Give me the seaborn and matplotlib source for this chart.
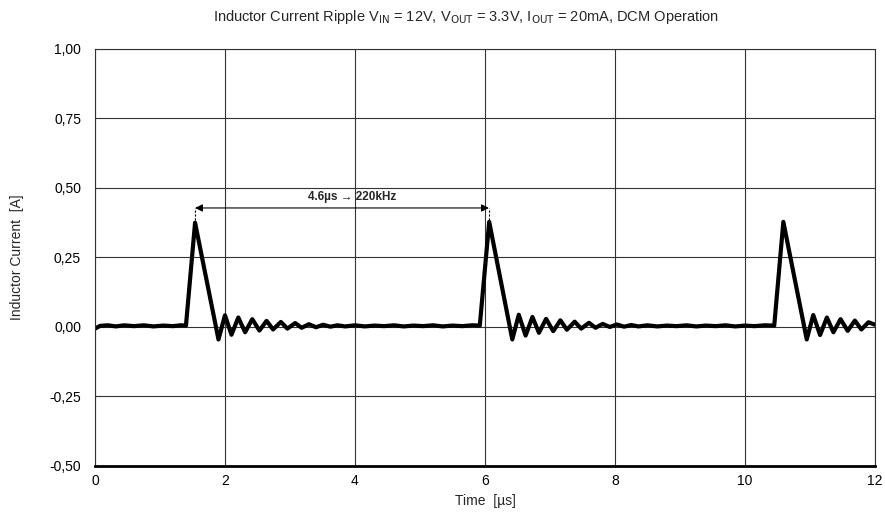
import pandas as pd
import matplotlib
matplotlib.use('Agg')
import matplotlib.pyplot as plt
import seaborn as sns

zeit = [0.00, 0.08, 0.20, 0.32, 0.45, 0.60, 0.75, 0.90, 1.05, 1.20, 1.32, 1.40,
        1.54, 1.90, 2.00, 2.10, 2.205, 2.31, 2.42, 2.53, 2.64, 2.74, 2.86, 2.96,
        3.08, 3.18, 3.29, 3.40, 3.51, 3.62, 3.73, 3.85, 4.00, 4.15, 4.30, 4.45,
        4.60, 4.75, 4.90, 5.05, 5.20, 5.35, 5.50, 5.65, 5.80, 5.92,
        6.065, 6.42, 6.52, 6.625, 6.73, 6.83, 6.94, 7.05, 7.16, 7.26, 7.38, 7.48,
        7.60, 7.70, 7.81, 7.92, 8.03, 8.14, 8.25, 8.36, 8.50, 8.65, 8.80, 8.95,
        9.10, 9.25, 9.40, 9.55, 9.70, 9.85, 10.00, 10.15, 10.30, 10.45,
        10.59, 10.95, 11.05, 11.155, 11.26, 11.36, 11.47, 11.58, 11.69, 11.79,
        11.90, 12.00]
strom = [-0.006, 0.004, 0.006, 0.002, 0.006, 0.003, 0.006, 0.002, 0.005, 0.003, 0.006, 0.005,
         0.375, -0.045, 0.042, -0.028, 0.034, -0.019, 0.028, -0.013, 0.022, -0.009, 0.018, -0.006,
         0.014, -0.003, 0.010, -0.001, 0.008, 0.001, 0.006, 0.002, 0.006, 0.002, 0.005, 0.003,
         0.006, 0.002, 0.005, 0.003, 0.006, 0.002, 0.005, 0.003, 0.006, 0.005,
         0.378, -0.045, 0.044, -0.031, 0.036, -0.021, 0.029, -0.015, 0.024, -0.010, 0.019, -0.006,
         0.015, -0.003, 0.011, 0.000, 0.009, 0.001, 0.007, 0.002, 0.006, 0.002, 0.005, 0.003,
         0.006, 0.002, 0.005, 0.003, 0.006, 0.002, 0.005, 0.003, 0.006, 0.005,
         0.378, -0.045, 0.043, -0.029, 0.034, -0.019, 0.028, -0.014, 0.023, -0.009,
         0.017, 0.008]

x_ticks = [0, 2, 4, 6, 8, 10, 12]
y_ticks = [-0.50, -0.25, 0.00, 0.25, 0.50, 0.75, 1.00]
y_labels = ['-0,50', '-0,25', '0,00', '0,25', '0,50', '0,75', '1,00']

# Periodenmarkierung zwischen den ersten zwei Spitzen
spitze_1 = 1.54
spitze_2 = 6.06
pfeil_y = 0.428
spitze_y = 0.385

df = pd.DataFrame({'t': zeit, 'i': strom})

sns.set_style('white')
schrift = ['Liberation Sans Narrow', 'Liberation Sans', 'DejaVu Sans']
plt.rcParams['font.family'] = schrift
plt.rcParams['mathtext.fontset'] = 'custom'
plt.rcParams['mathtext.rm'] = schrift[0]

fig = plt.figure(figsize=(8.85, 5.21), dpi=100)
ax = fig.add_axes([0.1073, 0.1056, 0.8814, 0.8005])

ax.grid(True, color='#333333', linewidth=0.8)
ax.set_axisbelow(True)

sns.lineplot(data=df, x='t', y='i', sort=False, estimator=None,
             color='black', linewidth=3.0, ax=ax)
ax.lines[-1].set_solid_joinstyle('round')

ax.set_xlim(0, 12)
ax.set_ylim(-0.5, 1.0)
ax.set_xticks(x_ticks)
ax.set_yticks(y_ticks)
ax.set_yticklabels(y_labels)
ax.tick_params(axis='y', length=0, labelsize=10, pad=10, colors='black')
ax.tick_params(axis='x', length=0, labelsize=10, pad=6, colors='black')

for s in ['top', 'right', 'left']:
    ax.spines[s].set_color('#333333')
    ax.spines[s].set_linewidth(0.8)
ax.spines['bottom'].set_color('black')
ax.spines['bottom'].set_linewidth(2.0)

ax.set_xlabel('Time  [µs]', fontsize=10, labelpad=4)
ax.set_ylabel('Inductor Current  [A]', fontsize=10, labelpad=18)
fig.text(0.527, 0.967, r'Inductor Current Ripple V$_{\mathrm{IN}}$ = 12V, V$_{\mathrm{OUT}}$ = 3.3V, '
         r'I$_{\mathrm{OUT}}$ = 20mA, DCM Operation', fontsize=10.5, ha='center', va='center')

# Doppelpfeil mit Frequenzangabe
ax.annotate('', xy=(spitze_1, pfeil_y), xytext=(spitze_2, pfeil_y),
            arrowprops=dict(arrowstyle='<|-|>', color='black', lw=0.8,
                            mutation_scale=11, shrinkA=0, shrinkB=0))
ax.plot([spitze_1, spitze_1], [spitze_y, pfeil_y], color='black', lw=0.8, ls=(0, (2, 1.5)))
ax.plot([spitze_2, spitze_2], [spitze_y, pfeil_y], color='black', lw=0.8, ls=(0, (2, 1.5)))
ax.text(3.96, pfeil_y + 0.04, '4.6µs → 220kHz', ha='center', va='center',
        fontsize=8.5, fontweight='bold', family=['Liberation Sans', 'DejaVu Sans'])

plt.savefig('out.png', dpi=100)
